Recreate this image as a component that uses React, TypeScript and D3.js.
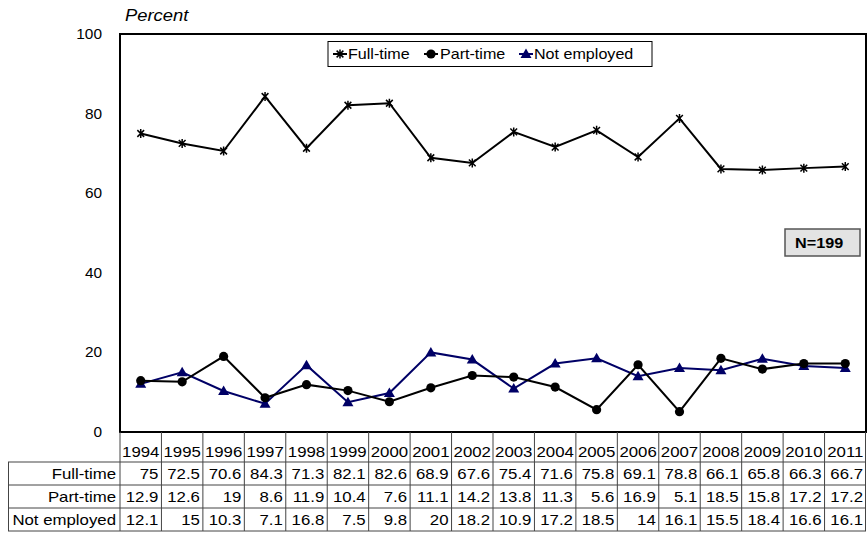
import React from "react";
import * as d3 from "d3";

const years = ["1994","1995","1996","1997","1998","1999","2000","2001","2002","2003","2004","2005","2006","2007","2008","2009","2010","2011"];
const fullTime = [75,72.5,70.6,84.3,71.3,82.1,82.6,68.9,67.6,75.4,71.6,75.8,69.1,78.8,66.1,65.8,66.3,66.7];
const partTime = [12.9,12.6,19,8.6,11.9,10.4,7.6,11.1,14.2,13.8,11.3,5.6,16.9,5.1,18.5,15.8,17.2,17.2];
const notEmployed = [12.1,15,10.3,7.1,16.8,7.5,9.8,20,18.2,10.9,17.2,18.5,14,16.1,15.5,18.4,16.6,16.1];
const seriesNames = ["Full-time","Part-time","Not employed"];
const yTicks = [0,20,40,60,80,100];

const W = 867, H = 534;
const L = 120, R = 866, T = 34, B = 432;
const FONT = "'Liberation Sans', Arial, sans-serif";
const NAVY = "#000066";

function T2({x, y, anchor = "start", size = 14, sx = 1.15, children, weight = "normal", style = "normal", fill = "#000"}: any) {
  return (
    <text transform={`translate(${x},${y}) scale(${sx},1)`} textAnchor={anchor} fontSize={size}
      fontFamily={FONT} fontWeight={weight} fontStyle={style} fill={fill}>{children}</text>
  );
}

function Marker({kind, x, y}: any) {
  if (kind === 0) {
    const r = 4.5, d = r * 0.75;
    return <path d={`M${x},${y - r}L${x},${y + r}M${x - d},${y - d}L${x + d},${y + d}M${x - d},${y + d}L${x + d},${y - d}`} stroke="#000" strokeWidth={1.5} fill="none" />;
  }
  if (kind === 1) return <circle cx={x} cy={y} r={4.6} fill="#000" />;
  return <path d={`M${x},${y - 5.5}L${x + 5.5},${y + 4}L${x - 5.5},${y + 4}Z`} fill={NAVY} />;
}

export default function App() {
  const x = d3.scaleBand<string>().domain(years).range([L, R]);
  const y = d3.scaleLinear().domain([0, 100]).range([B, T]);
  const cx = (d: string) => (x(d) as number) + x.bandwidth() / 2;
  const series = [fullTime, partTime, notEmployed];
  const colors = ["#000", "#000", NAVY];
  const line = d3.line<number>().x((_, i) => cx(years[i])).y(v => y(v));

  const rowTop = 462;
  const rowH = 23;
  const tableBottom = rowTop + rowH * 3;

  const legendItems = [
    { mx: 340, tx: 348 },
    { mx: 431, tx: 440 },
    { mx: 526, tx: 534 },
  ];

  return (
    <svg width={W} height={H} style={{ position: "absolute", left: 0, top: 0, background: "#fff" }}>
      {/* y axis labels */}
      {yTicks.map(t => (
        <T2 key={t} x={102} y={y(t) + 5} anchor="end" size={14} sx={1.1}>{t}</T2>
      ))}
      <T2 x={125} y={21} size={16} sx={1.15} style="italic">Percent</T2>

      {/* plot frame */}
      <rect x={L} y={T} width={R - L} height={B - T} fill="none" stroke="#000" strokeWidth={2} />

      {[2, 1, 0].map(si => (
        <g key={si}>
          <path d={line(series[si]) as string} fill="none" stroke={colors[si]} strokeWidth={2} />
          {series[si].map((v, i) => <Marker key={i} kind={si} x={cx(years[i])} y={y(v)} />)}
        </g>
      ))}

      {/* legend */}
      <rect x={328} y={41.5} width={324} height={25} fill="#fff" stroke="#000" strokeWidth={1} />
      {legendItems.map((it, i) => (
        <g key={i}>
          <line x1={it.mx - 7} x2={it.mx + 7} y1={54} y2={54} stroke={colors[i]} strokeWidth={2} />
          <Marker kind={i} x={it.mx} y={54} />
          <T2 x={it.tx} y={59} size={14} sx={1.15}>{seriesNames[i]}</T2>
        </g>
      ))}

      {/* N box */}
      <rect x={785} y={229} width={75} height={27} fill="#e3e3e3" stroke="#555" strokeWidth={1.5} />
      <T2 x={795} y={248} size={15} sx={1.08} weight="bold">N=199</T2>

      {/* data table */}
      {years.map(yr => (
        <T2 key={yr} x={cx(yr)} y={457} anchor="middle" size={14} sx={1.2}>{yr}</T2>
      ))}
      {years.map((yr, i) => i > 0 ? (
        <line key={yr} x1={x(yr)} x2={x(yr)} y1={B} y2={tableBottom} stroke="#444" strokeWidth={1} />
      ) : null)}
      <line x1={L} x2={L} y1={B} y2={tableBottom} stroke="#444" strokeWidth={1} />
      <line x1={R - 0.5} x2={R - 0.5} y1={B} y2={tableBottom} stroke="#444" strokeWidth={1} />
      <rect x={8.5} y={rowTop} width={R - 9} height={rowH * 3} fill="none" stroke="#444" strokeWidth={1} />
      {[1, 2].map(k => (
        <line key={k} x1={8.5} x2={R} y1={rowTop + rowH * k} y2={rowTop + rowH * k} stroke="#444" strokeWidth={1} />
      ))}
      {series.map((s, si) => (
        <g key={si}>
          <T2 x={116} y={rowTop + rowH * si + 17} anchor="end" size={14} sx={1.2}>{seriesNames[si]}</T2>
          {s.map((v, i) => (
            <T2 key={i} x={(x(years[i]) as number) + x.bandwidth() - 3} y={rowTop + rowH * si + 17} anchor="end" size={14} sx={1.2}>{v}</T2>
          ))}
        </g>
      ))}
    </svg>
  );
}
